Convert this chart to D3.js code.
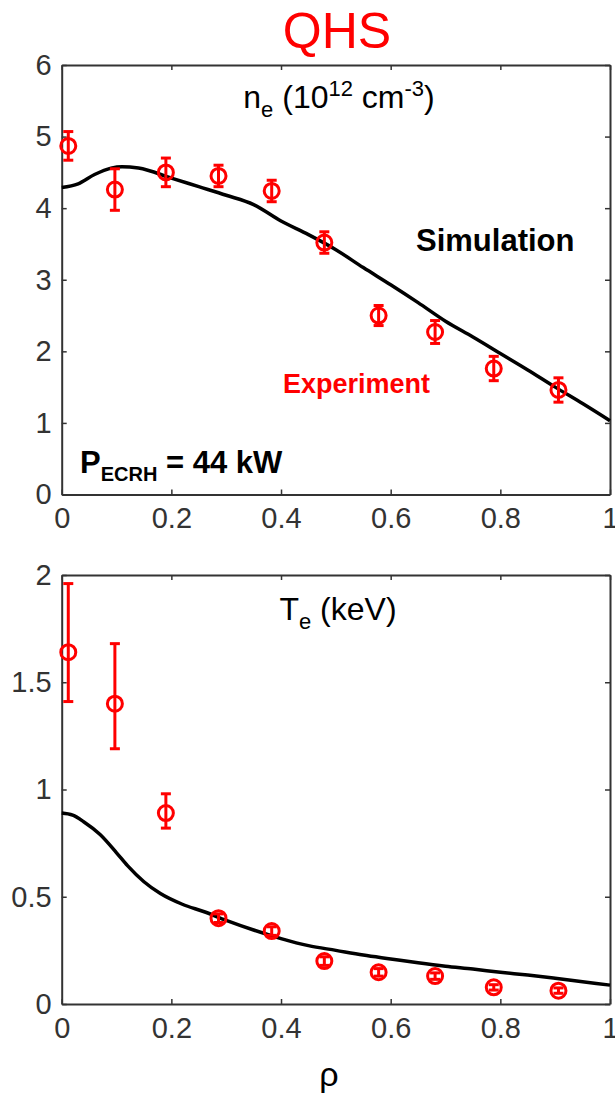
<!DOCTYPE html>
<html>
<head>
<meta charset="utf-8">
<script src="https://cdn.jsdelivr.net/npm/d3@7"></script>
<style>
  body { margin: 0; background: #fff; }
  svg { display: block; font-family: "Liberation Sans", Arial, sans-serif; }
</style>
</head>
<body>
<svg id="main-chart-svg" width="615" height="1096"></svg>
<script>
// radial positions of the measured points
const rhoExp = [0.012, 0.097, 0.19, 0.286, 0.383, 0.479, 0.578, 0.681, 0.788, 0.906];

// density (10^12 cm^-3)
const neExp = [4.87, 4.26, 4.50, 4.45, 4.24, 3.52, 2.50, 2.27, 1.76, 1.46];
const neErr = [0.20, 0.29, 0.20, 0.15, 0.15, 0.15, 0.14, 0.16, 0.17, 0.17];
const rhoSimNe = [0, 0.03, 0.06, 0.09, 0.11, 0.14, 0.2, 0.25, 0.3, 0.35, 0.4, 0.45, 0.5, 0.55, 0.6, 0.65, 0.7, 0.75, 0.8, 0.85, 0.9, 0.95, 1.0];
const neSim = [4.29, 4.34, 4.47, 4.56, 4.58, 4.56, 4.42, 4.30, 4.18, 4.05, 3.82, 3.63, 3.42, 3.17, 2.93, 2.68, 2.42, 2.20, 1.97, 1.74, 1.50, 1.27, 1.03];

// temperature (keV)
const teExp = [1.64, 1.40, 0.89, 0.40, 0.34, 0.20, 0.148, 0.13, 0.078, 0.062];
const teHi = [1.96, 1.68, 0.98, 0.42, 0.36, 0.22, 0.165, 0.145, 0.09, 0.075];
const teLo = [1.41, 1.19, 0.82, 0.38, 0.32, 0.18, 0.13, 0.115, 0.065, 0.05];
const rhoSimTe = [0, 0.02, 0.04, 0.07, 0.1, 0.12, 0.15, 0.18, 0.22, 0.26, 0.3, 0.35, 0.4, 0.45, 0.5, 0.55, 0.6, 0.65, 0.7, 0.75, 0.8, 0.85, 0.9, 0.95, 1.0];
const teSim = [0.89, 0.88, 0.85, 0.79, 0.705, 0.645, 0.57, 0.515, 0.465, 0.43, 0.39, 0.345, 0.305, 0.272, 0.25, 0.228, 0.21, 0.192, 0.176, 0.163, 0.148, 0.135, 0.12, 0.104, 0.088];

// tick labels
const xTicks = [0, 0.2, 0.4, 0.6, 0.8, 1];
const neTicks = [0, 1, 2, 3, 4, 5, 6];
const teTicks = [0, 0.5, 1, 1.5, 2];

const svg = d3.select("#main-chart-svg");
const left = 61.7, right = 610;

let xScale = d3.scaleLinear().domain([0, 1]).range([left, right]);

function drawPanel(top, bottom, yMax, yTicks, rhoSim, sim, lo, hi, y0) {
    let yScale = d3.scaleLinear().domain([0, yMax]).range([bottom, top]);
    let g = svg.append("g");

    // frame with inward ticks on all sides
    let axes = [
        [d3.axisBottom(xScale).tickValues(xTicks).tickFormat(d3.format("~g")).tickPadding(13), bottom, 0],
        [d3.axisTop(xScale).tickValues(xTicks).tickFormat(""), top, 0],
        [d3.axisLeft(yScale).tickValues(yTicks).tickFormat(d3.format("~g")).tickPadding(10), 0, left],
        [d3.axisRight(yScale).tickValues(yTicks).tickFormat(""), 0, right]
    ];
    axes.forEach(([ax, ty, tx]) => {
        let a = g.append("g")
            .attr("transform", `translate(${tx},${ty})`)
            .call(ax.tickSize(-5).tickSizeOuter(0));
        a.select(".domain").attr("stroke", "#333").attr("stroke-width", 2);
        a.selectAll(".tick line").attr("stroke", "#333").attr("stroke-width", 1.5);
        a.selectAll(".tick text")
            .attr("font-size", 29).attr("fill", "#333")
            .attr("font-family", "Liberation Sans, Arial, sans-serif");
    });

    // simulation curve
    let line = d3.line()
        .x((d, i) => xScale(rhoSim[i]))
        .y(d => yScale(d))
        .curve(d3.curveMonotoneX);
    g.append("path")
        .datum(sim)
        .attr("d", line)
        .attr("fill", "none")
        .attr("stroke", "#000")
        .attr("stroke-width", 3.5);

    // experimental points with error bars
    let pts = g.selectAll(".pt").data(y0).join("g").attr("class", "pt");
    pts.append("line")
        .attr("x1", (d, i) => xScale(rhoExp[i])).attr("x2", (d, i) => xScale(rhoExp[i]))
        .attr("y1", (d, i) => yScale(lo[i])).attr("y2", (d, i) => yScale(hi[i]))
        .attr("stroke", "#f00").attr("stroke-width", 3);
    [lo, hi].forEach(arr => {
        pts.append("line")
            .attr("x1", (d, i) => xScale(rhoExp[i]) - 5).attr("x2", (d, i) => xScale(rhoExp[i]) + 5)
            .attr("y1", (d, i) => yScale(arr[i])).attr("y2", (d, i) => yScale(arr[i]))
            .attr("stroke", "#f00").attr("stroke-width", 3);
    });
    pts.append("circle")
        .attr("cx", (d, i) => xScale(rhoExp[i]))
        .attr("cy", d => yScale(d))
        .attr("r", 7.5)
        .attr("fill", "none")
        .attr("stroke", "#f00")
        .attr("stroke-width", 3);
    return g;
}

// top panel: density
let gTop = drawPanel(65, 494.5, 6, neTicks, rhoSimNe, neSim,
    neExp.map((v, i) => v - neErr[i]), neExp.map((v, i) => v + neErr[i]), neExp);
// bottom panel: temperature
let gBot = drawPanel(575, 1004, 2, teTicks, rhoSimTe, teSim, teLo, teHi, teExp);

// titles and annotations
svg.append("text").attr("x", 337).attr("y", 48).attr("text-anchor", "middle")
    .attr("font-size", 50).attr("fill", "#f00").text("QHS");

let ne = svg.append("text").attr("x", 339).attr("y", 108).attr("text-anchor", "middle")
    .attr("font-size", 32).attr("fill", "#000");
ne.append("tspan").text("n");
ne.append("tspan").attr("dy", 9).attr("font-size", 22).text("e");
ne.append("tspan").attr("dy", -9).text(" (10");
ne.append("tspan").attr("dy", -12).attr("font-size", 22).text("12");
ne.append("tspan").attr("dy", 12).text(" cm");
ne.append("tspan").attr("dy", -12).attr("font-size", 22).text("-3");
ne.append("tspan").attr("dy", 12).text(")");

svg.append("text").attr("x", 416).attr("y", 251)
    .attr("font-size", 31).attr("font-weight", "bold").attr("fill", "#000").text("Simulation");
svg.append("text").attr("x", 283).attr("y", 393)
    .attr("font-size", 27).attr("font-weight", "bold").attr("fill", "#f00").text("Experiment");

let p = svg.append("text").attr("x", 80).attr("y", 473)
    .attr("font-size", 31).attr("font-weight", "bold").attr("fill", "#000");
p.append("tspan").text("P");
p.append("tspan").attr("dy", 8).attr("font-size", 20).text("ECRH");
p.append("tspan").attr("dy", -8).text(" = 44 kW");

let te = svg.append("text").attr("x", 338).attr("y", 620).attr("text-anchor", "middle")
    .attr("font-size", 32).attr("fill", "#000");
te.append("tspan").text("T");
te.append("tspan").attr("dy", 9).attr("font-size", 22).text("e");
te.append("tspan").attr("dy", -9).text(" (keV)");

svg.append("text").attr("x", 329).attr("y", 1086).attr("text-anchor", "middle")
    .attr("font-size", 34).attr("fill", "#000").text("ρ");
</script>
</body>
</html>
